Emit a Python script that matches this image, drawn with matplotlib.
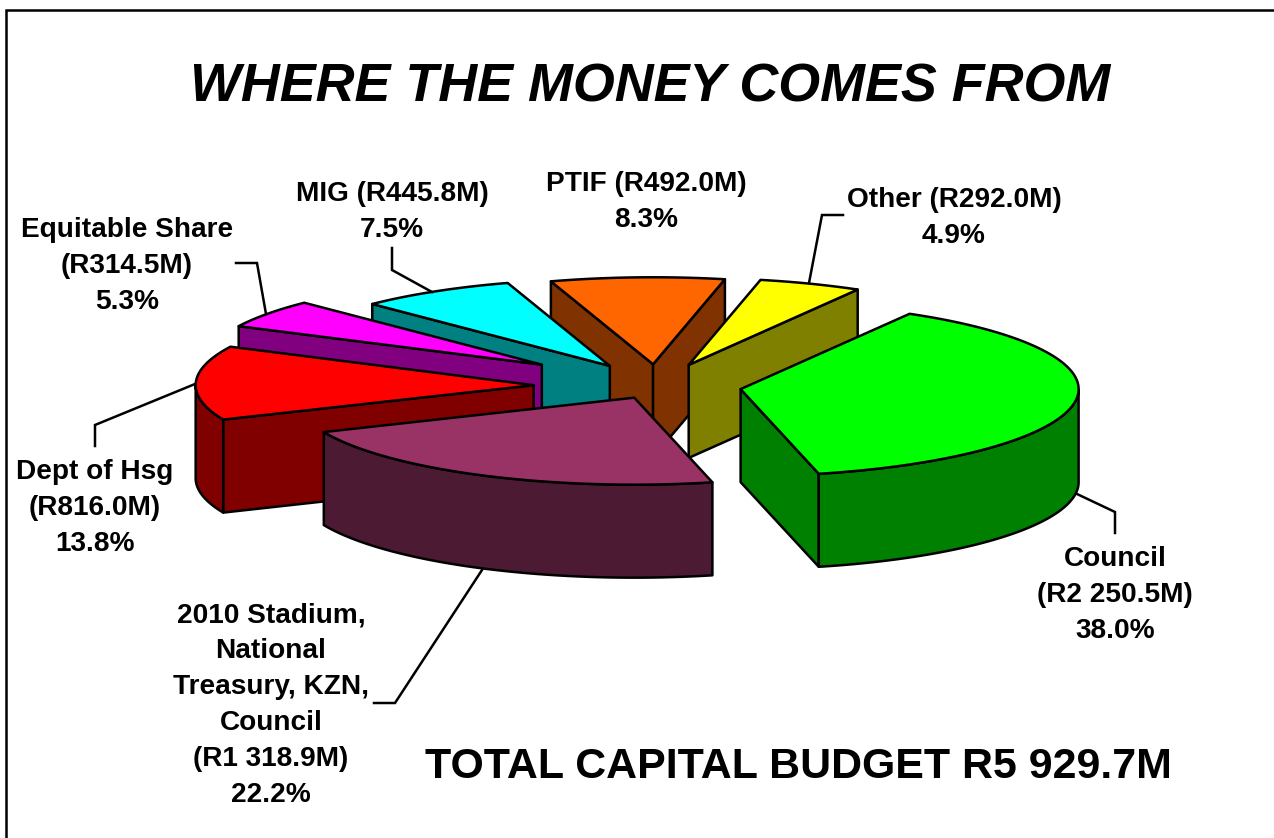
import numpy as np
import matplotlib
matplotlib.use('Agg')
import matplotlib.pyplot as plt

plt.rcParams['font.family'] = ['Liberation Sans', 'DejaVu Sans']

# budget in R million, clockwise from the start angle
names = ['Council', '2010 Stadium,\nNational\nTreasury, KZN,\nCouncil', 'Dept of Hsg',
         'Equitable Share', 'MIG', 'PTIF', 'Other']
amounts = [2250.5, 1318.9, 816.0, 314.5, 445.8, 492.0, 292.0]
amount_labels = ['R2 250.5M', 'R1 318.9M', 'R816.0M', 'R314.5M', 'R445.8M', 'R492.0M', 'R292.0M']
separators = ['\n', '\n', '\n', '\n', ' ', ' ', ' ']
explode = [0.25, 0.15, 0.365, 0.42, 0.27, 0.25, 0.26]
top_colors = ['#00FF00', '#993366', '#FF0000', '#FF00FF', '#00FFFF', '#FF6600', '#FFFF00']
side_colors = ['#008000', '#4D1A33', '#800000', '#800080', '#008080', '#803300', '#808000']

# back to front
draw_order = [5, 6, 4, 3, 2, 1, 0]

# label centres and leader lines, in pixels
label_pos = [(1115, 595), (271, 705), (95, 508), (127, 266), (392, 212), (646, 202), (954, 218)]
leaders = [
    [(1077, 494), (1115, 512), (1115, 533)],
    [(482, 570), (395, 703), (374, 703)],
    [(195, 384), (95, 425), (95, 446)],
    [(266, 314), (257, 263), (236, 263)],
    [(432, 292), (392, 270), (392, 248)],
    None,
    [(809, 283), (822, 215), (843, 215)],
]

CX, CY = 657, 386
A, B = 338, 87
DEPTH = 93
START = 60.0
LW = 1.8

fig = plt.figure(figsize=(12.74, 8.38), dpi=100)
ax = fig.add_axes([0, 0, 1, 1])
ax.set_xlim(0, 1274)
ax.set_ylim(838, 0)
ax.axis('off')


def rim_xy(x0, y0, deg):
    r = np.radians(deg)
    return x0 + A * np.cos(r), y0 - B * np.sin(r)


def poly(xs, ys, color):
    ax.fill(xs, ys, facecolor=color, edgecolor='black', linewidth=LW, joinstyle='round')


total = sum(amounts)
sweeps = [v / total * 360 for v in amounts]
ends = START - np.cumsum(sweeps)
starts = ends + np.array(sweeps)

for i in draw_order:
    a1, a2 = starts[i], ends[i]
    mid = np.radians((a1 + a2) / 2)
    x0 = CX + explode[i] * A * np.cos(mid)
    y0 = CY - explode[i] * B * np.sin(mid)

    # cut faces that look towards the viewer
    for ang, show in [(a1, np.cos(np.radians(a1)) < 0), (a2, np.cos(np.radians(a2)) > 0)]:
        if show:
            xe, ye = rim_xy(x0, y0, ang)
            poly([x0, xe, xe, x0], [y0, ye, ye + DEPTH, y0 + DEPTH], side_colors[i])

    # outer wall, only the front half of the ellipse
    th = np.linspace(a2, a1, 200)
    front = th[np.sin(np.radians(th)) <= 0]
    if len(front) > 1:
        xs, ys = rim_xy(x0, y0, front)
        poly(np.r_[xs, xs[::-1]], np.r_[ys, ys[::-1] + DEPTH], side_colors[i])

    xs, ys = rim_xy(x0, y0, th)
    poly(np.r_[x0, xs], np.r_[y0, ys], top_colors[i])

for i, name in enumerate(names):
    pct = amounts[i] / total * 100
    txt = '%s%s(%s)\n%.1f%%' % (name, separators[i], amount_labels[i], pct)
    ax.text(label_pos[i][0], label_pos[i][1], txt, ha='center', va='center', fontsize=20.2,
            fontweight='bold', linespacing=1.5)
    if leaders[i]:
        ax.plot(*zip(*leaders[i]), color='black', lw=LW, solid_joinstyle='miter')

ax.text(650, 88, 'WHERE THE MONEY COMES FROM', ha='center', va='center', fontsize=38.8,
        fontweight='bold', fontstyle='italic')
ax.text(798, 767, 'TOTAL CAPITAL BUDGET R5 929.7M', ha='center', va='center', fontsize=30.9,
        fontweight='bold')

# slide frame, cut off by the crop on the right and at the bottom
ax.plot([5.5, 5.5, 1274], [838, 10.5, 10.5], color='black', lw=LW, solid_joinstyle='miter')

fig.savefig('out.png', dpi=100)
plt.close()
